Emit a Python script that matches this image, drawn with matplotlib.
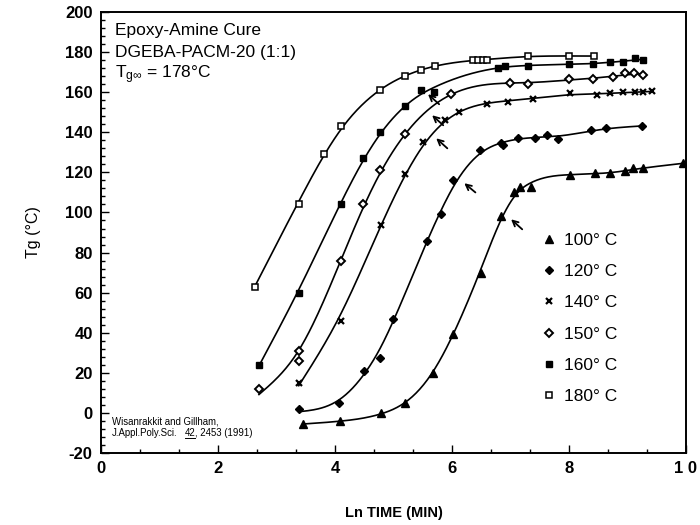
import numpy as np
import matplotlib
matplotlib.use("Agg")
import matplotlib.pyplot as plt
from matplotlib.ticker import FixedLocator, AutoMinorLocator, MultipleLocator
from matplotlib.lines import Line2D

plt.rcParams['font.family'] = ['Liberation Sans', 'DejaVu Sans']
plt.rcParams['mathtext.fontset'] = 'custom'
plt.rcParams['mathtext.rm'] = 'Liberation Sans'
plt.rcParams['mathtext.it'] = 'Liberation Sans'
plt.rcParams['axes.unicode_minus'] = False

# ---------------- data ----------------
x100 = [3.45, 4.09, 4.79, 5.20, 5.68, 6.02, 6.50, 6.84, 7.06, 7.16, 7.35, 8.02, 8.44, 8.70, 8.96, 9.09, 9.26, 9.95]
y100 = [-5.5, -4, 0, 5, 20, 39.5, 70, 98, 110, 112.5, 112.5, 118.5, 119.5, 119.5, 120.5, 122, 122, 124.5]

x120 = [3.38, 4.07, 4.50, 4.77, 4.99, 5.57, 5.81, 6.02, 6.48, 6.84, 6.87, 7.13, 7.42, 7.62, 7.81, 8.38, 8.63, 9.25]
y120 = [2, 5, 21, 27.5, 47, 86, 99, 116, 131, 134.5, 133.5, 137, 137, 138.5, 136.5, 141, 142, 143]

x140 = [3.38, 4.10, 4.79, 5.20, 5.50, 5.88, 6.12, 6.60, 6.96, 7.38, 8.02, 8.48, 8.70, 8.92, 9.13, 9.27, 9.42]
y140 = [15, 46, 94, 119, 135, 146, 150, 154, 155, 156.5, 159.5, 158.5, 159.5, 160, 160, 160, 160.5]

x150 = [2.70, 3.38, 3.38, 4.10, 4.48, 4.77, 5.20, 5.98, 6.99, 7.30, 8.00, 8.41, 8.75, 8.96, 9.11, 9.27]
y150 = [12, 31, 26, 76, 104, 121, 139, 159, 164.5, 164, 166.5, 166.5, 167.5, 169.5, 169.5, 168.5]

x160 = [2.70, 3.38, 4.10, 4.48, 4.77, 5.20, 5.47, 5.69, 6.79, 6.91, 7.30, 8.00, 8.41, 8.70, 8.92, 9.13, 9.27]
y160 = [24, 60, 104, 127, 140, 153, 161, 160, 172, 173, 173, 174, 174, 175, 175, 177, 176]

x180 = [2.63, 3.38, 3.81, 4.10, 4.77, 5.20, 5.47, 5.71, 6.36, 6.44, 6.53, 6.60, 7.30, 8.00, 8.43]
y180 = [63, 104, 129, 143, 161, 168, 171, 173, 176, 176, 176, 176, 178, 178, 178]

series_labels = ["100° C", "120° C", "140° C", "150° C", "160° C", "180° C"]

# arrows (tip x, tip y, tail x, tail y)
arrow_tips_x = [5.59, 5.66, 5.73, 6.21, 7.01]
arrow_tips_y = [159.0, 148.5, 137.0, 114.6, 96.6]
arrow_tail_x = [5.78, 5.85, 5.92, 6.40, 7.20]
arrow_tail_y = [154.0, 143.5, 132.0, 110.0, 91.6]

xtick_vals = [0, 2, 4, 6, 8, 10]
xtick_labels = ["0", "2", "4", "6", "8", "1 0"]
ytick_vals = [-20, 0, 20, 40, 60, 80, 100, 120, 140, 160, 180, 200]


def smooth_curve(x, y, lam=3e-2, n=300):
    x = np.asarray(x, float)
    y = np.asarray(y, float)
    g = np.linspace(x.min(), x.max(), n)
    h = g[1] - g[0]
    idx = np.clip(((x - g[0]) / h).astype(int), 0, n - 2)
    t = (x - g[idx]) / h
    B = np.zeros((len(x), n))
    B[np.arange(len(x)), idx] = 1 - t
    B[np.arange(len(x)), idx + 1] = t
    D = np.diff(np.eye(n), 2, axis=0) / h ** 2
    A = B.T @ B + lam * h * (D.T @ D)
    f = np.linalg.solve(A, B.T @ y)
    return g, f


fig = plt.figure(figsize=(7, 5.25), dpi=100)
ax = fig.add_axes([0.1443, 0.1371, 0.8357, 0.8400])

mk = dict(color='black', linestyle='none')
styles = [
    (x100, y100, 8e-3, dict(marker='^', ms=5.5, mfc='black', mec='black')),
    (x120, y120, 2e-2, dict(marker='D', ms=4.0, mfc='black', mec='black')),
    (x140, y140, 3e-2, dict(marker='x', ms=5.0, mew=1.6)),
    (x150, y150, 3e-2, dict(marker='D', ms=4.0, mfc='white', mec='black', mew=1.4)),
    (x160, y160, 3e-2, dict(marker='s', ms=5.0, mfc='black', mec='black')),
    (x180, y180, 3e-2, dict(marker='s', ms=5.0, mfc='white', mec='black', mew=1.1)),
]
handles = []
for (xs, ys, lam, st), lab in zip(styles, series_labels):
    gx, gy = smooth_curve(xs, ys, lam=lam)
    ax.plot(gx, gy, color='black', lw=1.2, zorder=2)
    h, = ax.plot(xs, ys, label=lab, zorder=3, **mk, **st)
    handles.append(h)

for tx, ty, sx, sy in zip(arrow_tips_x, arrow_tips_y, arrow_tail_x, arrow_tail_y):
    ax.annotate("", xy=(tx, ty), xytext=(sx, sy),
                arrowprops=dict(arrowstyle='->', color='black', lw=1.3,
                                shrinkA=0, shrinkB=0, mutation_scale=10))

ax.set_xlim(0, 10)
ax.set_ylim(-20, 200)
ax.xaxis.set_major_locator(FixedLocator(xtick_vals))
ax.set_xticklabels(xtick_labels)
ax.yaxis.set_major_locator(FixedLocator(ytick_vals))
ax.xaxis.set_minor_locator(AutoMinorLocator(3))
ax.yaxis.set_minor_locator(MultipleLocator(4))
ax.tick_params(which='both', direction='in', top=False, right=False, width=1.0)
ax.tick_params(which='major', length=6, labelsize=12, pad=6)
ax.tick_params(which='minor', length=3)
for lab in ax.get_xticklabels() + ax.get_yticklabels():
    lab.set_fontweight('bold')
for sp in ax.spines.values():
    sp.set_linewidth(1.4)

ax.set_xlabel("Ln TIME (MIN)", fontsize=10.5, fontweight='bold', labelpad=21)
ax.set_ylabel("Tg (°C)", fontsize=11.5, labelpad=17)

ax.legend(handles=handles, loc='center left', bbox_to_anchor=(0.752, 0.305),
          frameon=False, fontsize=12.5, handlelength=0.9, handletextpad=0.45,
          borderpad=0, borderaxespad=0, labelspacing=0.93, numpoints=1)

ax.text(0.024, 0.957, "Epoxy-Amine Cure", transform=ax.transAxes, fontsize=12.5, va='center', ha='left')
ax.text(0.024, 0.909, "DGEBA-PACM-20 (1:1)", transform=ax.transAxes, fontsize=12.5, va='center', ha='left')
ax.text(0.024, 0.859, r"T$_{\mathregular{g\infty}}$ = 178°C", transform=ax.transAxes, fontsize=12.5, va='center', ha='left')

ax.text(0.019, 0.0726, "Wisanrakkit and Gillham,", transform=ax.transAxes, fontsize=6.9, va='center', ha='left')
t1 = ax.text(0.019, 0.045, "J.Appl.Poly.Sci.", transform=ax.transAxes, fontsize=6.9, va='center', ha='left')
fig.canvas.draw()
r = fig.canvas.get_renderer()
bb1 = t1.get_window_extent(r)
ymid = (bb1.y0 + bb1.y1) / 2
t2 = fig.text(bb1.x1 + 7, ymid, "42", fontsize=6.9, va='center', ha='left', transform=None)
bb2 = t2.get_window_extent(r)
fig.add_artist(Line2D([bb2.x0, bb2.x1], [bb2.y0 + 0.5, bb2.y0 + 0.5], color='black', lw=0.7, transform=None))
fig.text(bb2.x1, ymid, ", 2453 (1991)", fontsize=6.9, va='center', ha='left', transform=None)

fig.savefig("out.png", dpi=100)
